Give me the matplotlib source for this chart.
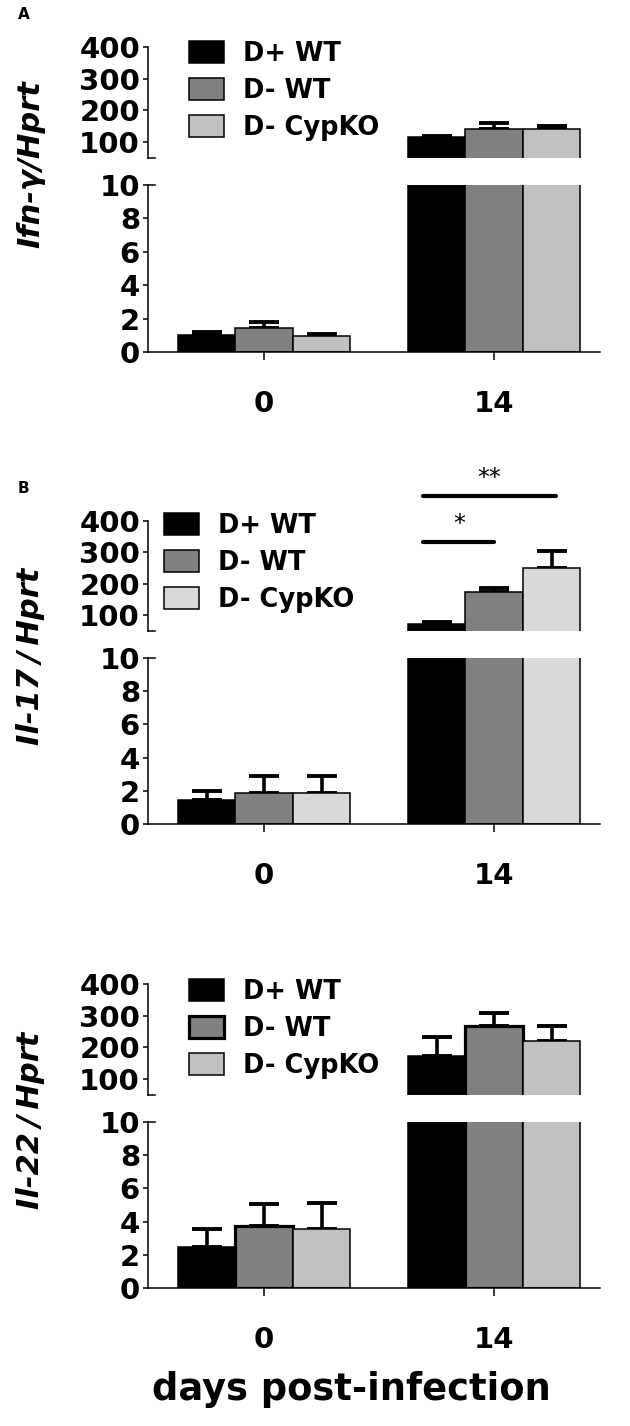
import numpy as np
import matplotlib
matplotlib.use("Agg")
import matplotlib.pyplot as plt
from matplotlib.patches import Patch

plt.rcParams['font.family'] = ['DejaVu Sans']

# ---- data ----
days = ["0", "14"]
groups = ["D+ WT", "D- WT", "D- CypKO"]

# rows = groups, cols = days
ifng_mean = np.array([[1.04, 115], [1.43, 140], [0.96, 140]])
ifng_err = np.array([[0.16, 4], [0.36, 19], [0.14, 12]])

il17_mean = np.array([[1.44, 72], [1.88, 175], [1.88, 250]])
il17_err = np.array([[0.56, 8], [1.02, 12], [1.02, 53]])

il22_mean = np.array([[2.5, 173], [3.74, 268], [3.53, 220]])
il22_err = np.array([[1.06, 61], [1.32, 42], [1.57, 48]])

ylabels = ["Ifn-\u03b3/Hprt", "Il-17\u2009/\u2009Hprt", "Il-22\u2009/\u2009Hprt"]
panel_letters = ["A", "B", ""]

top_ticks = [100, 200, 300, 400]
bottom_ticks = [0, 2, 4, 6, 8, 10]

# ---- styles ----
W, H = 630, 1426
DPI = 100
colors_ac = ["#000000", "#808080", "#c0c0c0"]
colors_b = ["#000000", "#808080", "#d9d9d9"]

fig = plt.figure(figsize=(W / DPI, H / DPI), dpi=DPI)


def frac(x0, y_top, x1, y_bot):
    return [x0 / W, 1 - y_bot / H, (x1 - x0) / W, (y_bot - y_top) / H]


# pixel layout per panel: top axes y0,y1 / bottom axes y0,y1 / legend x,y / ylabel y
layout = [
    (47, 158, 185, 352, 189, 41, 164),
    (521, 631, 658, 824, 164, 513, 656),
    (984, 1095, 1122, 1288, 189, 979, 1120),
]
panels = [
    (ifng_mean, ifng_err, colors_ac, [1.1, 1.1, 1.1]),
    (il17_mean, il17_err, colors_b, [1.1, 1.1, 1.1]),
    (il22_mean, il22_err, colors_ac, [1.1, 2.3, 1.1]),
]

x = np.arange(len(days))
width = 0.25
tick_fs = 21
lw = 1.1

for i, ((t0, t1, b0, b1, lx, ly, yl), (mean, err, cols, edge_lw)) in enumerate(zip(layout, panels)):
    ax_t = fig.add_axes(frac(148, t0, 600, t1))
    ax_b = fig.add_axes(frac(148, b0, 600, b1))

    for ax in (ax_t, ax_b):
        for j in range(len(groups)):
            xs = x + (j - 1) * width
            ax.bar(xs, mean[j], width, color=cols[j], edgecolor="black",
                   linewidth=edge_lw[j], zorder=2)
            ax.errorbar(xs, mean[j], yerr=[np.zeros_like(err[j]), err[j]],
                        fmt="none", ecolor="black", elinewidth=2.6,
                        capsize=11, capthick=2.8, zorder=1)
        ax.set_xlim(-0.505, 1.46)
        for s in ("top", "right"):
            ax.spines[s].set_visible(False)
        ax.spines["left"].set_linewidth(lw)
        ax.tick_params(axis="y", direction="out", length=3.8, width=lw,
                       labelsize=tick_fs, pad=2)

    ax_t.set_ylim(50, 400)
    ax_t.set_yticks(top_ticks)
    ax_t.set_yticklabels([str(v) for v in top_ticks], fontweight="bold",
                         fontsize=tick_fs)
    ax_t.spines["bottom"].set_visible(False)
    ax_t.set_xticks([])
    ax_t.patch.set_alpha(0)

    ax_b.set_ylim(0, 10)
    ax_b.set_yticks(bottom_ticks)
    ax_b.set_yticklabels([str(v) for v in bottom_ticks], fontweight="bold",
                         fontsize=tick_fs)
    ax_b.spines["bottom"].set_linewidth(lw)
    ax_b.set_xticks(x)
    ax_b.set_xticklabels(days, fontweight="bold", fontsize=tick_fs)
    ax_b.tick_params(axis="x", direction="out", length=6, width=lw, pad=21)
    ax_b.patch.set_alpha(0)

    # axis break marks
    ax_t.plot([0, 0.016], [0, 0], transform=ax_t.transAxes, color="black",
              lw=lw, clip_on=False)
    ax_b.plot([0, 0.016], [1, 1], transform=ax_b.transAxes, color="black",
              lw=lw, clip_on=False)

    # legend
    handles = [Patch(facecolor=c, edgecolor="black",
                     linewidth=(2.3 if (i == 2 and k == 1) else 1.1))
               for k, c in enumerate(cols)]
    ax_t.legend(handles, groups, loc="upper left",
                bbox_to_anchor=(lx / W, 1 - ly / H),
                bbox_transform=fig.transFigure, frameon=False,
                prop={"weight": "bold", "size": 18.5}, borderpad=0,
                borderaxespad=0, handlelength=1.35, handleheight=0.95,
                handletextpad=0.75, labelspacing=0.42)

    # y label
    fig.text(31 / W, 1 - yl / H, ylabels[i], rotation=90, ha="center",
             va="center", fontsize=22, fontweight="bold", fontstyle="italic")

    if panel_letters[i]:
        fig.text(18 / W, 1 - (t0 - 40) / H, panel_letters[i], ha="left",
                 va="top", fontsize=11, fontweight="bold")

    # significance marks (panel B)
    if i == 1:
        ax_t.plot([0.69, 1.0], [334, 334], color="black", lw=3,
                  solid_capstyle="round", clip_on=False)
        ax_t.plot([0.69, 1.27], [480, 480], color="black", lw=3,
                  solid_capstyle="round", clip_on=False)
        ax_t.text(0.85, 352, "*", ha="center", va="bottom", fontsize=17)
        ax_t.text(0.98, 500, "**", ha="center", va="bottom", fontsize=17)

fig.text(351 / W, 1 - 1400 / H, "days post-infection", ha="center",
         va="baseline", fontsize=26.5, fontweight="bold")

fig.savefig("out.png", dpi=DPI)
